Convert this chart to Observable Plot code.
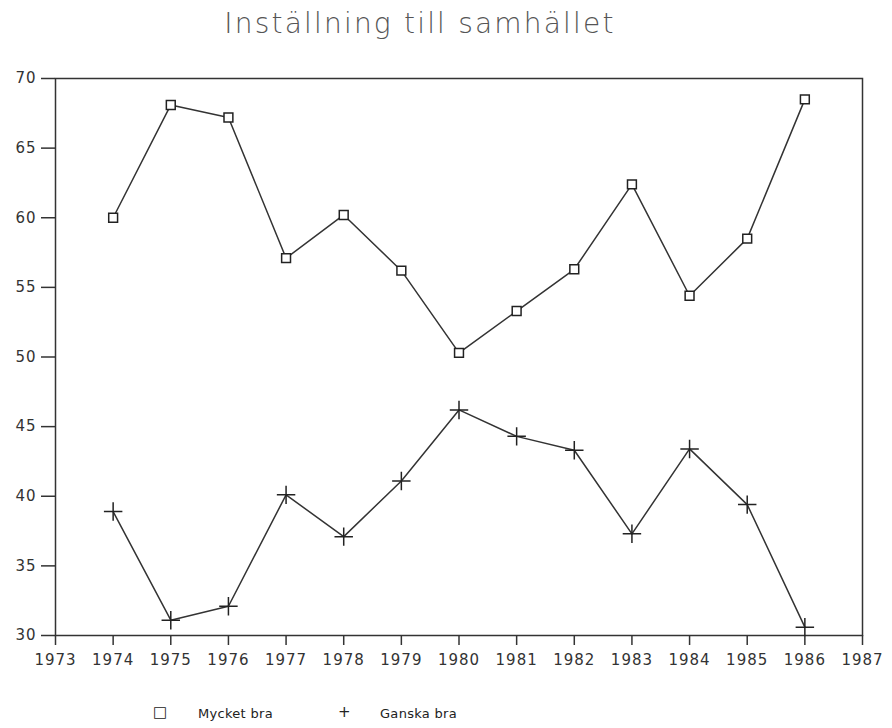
<!DOCTYPE html>
<html>
<head>
<meta charset="utf-8">
<script src="https://cdn.jsdelivr.net/npm/d3@7"></script>
<script src="https://cdn.jsdelivr.net/npm/@observablehq/plot@0.6"></script>
<style>
  body { margin: 0; background: #fff; width: 892px; height: 728px; position: relative; overflow: hidden; font-family: "DejaVu Sans", sans-serif; }
  #title { position: absolute; left: 0; top: 7px; width: 840px; text-align: center; font-size: 28px; letter-spacing: 2.2px; color: #555; font-family: "DejaVu Sans", sans-serif; font-weight: 300; }
  #chart { position: absolute; left: 0; top: 60px; }
  .leg { position: absolute; top: 706px; font-size: 13px; color: #222; letter-spacing: 0.3px; font-weight: 500; }
</style>
</head>
<body>
<div id="title"></div>
<div id="chart"></div>
<div id="legend"></div>
<script>
const titleText = "Inställning till samhället";
const years = [1974, 1975, 1976, 1977, 1978, 1979, 1980, 1981, 1982, 1983, 1984, 1985, 1986];
const myckeBra = [60.0, 68.1, 67.2, 57.1, 60.2, 56.2, 50.3, 53.3, 56.3, 62.4, 54.4, 58.5, 68.5];
const ganskaBra = [38.9, 31.1, 32.1, 40.1, 37.1, 41.1, 46.2, 44.3, 43.3, 37.3, 43.4, 39.4, 30.6];
const seriesNames = ["Mycket bra", "Ganska bra"];
const xTicks = d3.range(1973, 1988);
const yTicks = [30, 35, 40, 45, 50, 55, 60, 65, 70];

document.getElementById("title").textContent = titleText;

const rows = [];
years.forEach((y, i) => {
  rows.push({year: y, value: myckeBra[i], series: seriesNames[0]});
  rows.push({year: y, value: ganskaBra[i], series: seriesNames[1]});
});
const A = rows.filter(d => d.series === seriesNames[0]);
const B = rows.filter(d => d.series === seriesNames[1]);

const chart = Plot.plot({
  width: 892,
  height: 620,
  marginLeft: 55,
  marginRight: 30,
  marginTop: 18,
  marginBottom: 45,
  style: {fontFamily: "DejaVu Sans, sans-serif", fontSize: "15px", color: "#333", background: "#fff", letterSpacing: "1px"},
  x: {domain: [1973, 1987], ticks: xTicks, tickFormat: d => String(d), tickSize: 10, tickPadding: 9, label: null},
  y: {domain: [30, 70], ticks: yTicks, tickSize: 14, tickPadding: 5, label: null},
  marks: [
    Plot.frame({stroke: "#333", strokeWidth: 1.5}),
    Plot.line(A, {x: "year", y: "value", stroke: "#333", strokeWidth: 1.5}),
    Plot.line(B, {x: "year", y: "value", stroke: "#333", strokeWidth: 1.5}),
    Plot.dot(A, {x: "year", y: "value", symbol: "square", r: 5, fill: "white", stroke: "#222", strokeWidth: 1.5}),
    Plot.dot(B, {x: "year", y: "value", symbol: "plus", r: 6, fill: "none", stroke: "#222", strokeWidth: 1.5})
  ]
});
chart.querySelectorAll("g[aria-label$='axis'] path, g[aria-label$='tick'] path").forEach(p => { p.setAttribute("stroke", "#333"); p.setAttribute("stroke-width", "1.5"); p.setAttribute("stroke-opacity", "1"); });
chart.querySelectorAll("g[aria-label$='tick label'] text").forEach(t => t.setAttribute("font-size", "15px"));
document.getElementById("chart").appendChild(chart);

const legend = document.getElementById("legend");
const legItems = [
  {sym: "□", x: 153, label: seriesNames[0], lx: 198},
  {sym: "+", x: 338, label: seriesNames[1], lx: 380}
];
legItems.forEach(it => {
  const s = document.createElement("span");
  s.className = "leg"; s.style.left = it.x + "px"; s.style.fontSize = "15px"; s.style.top = "703px"; s.style.fontWeight = "400";
  s.textContent = it.sym; legend.appendChild(s);
  const t = document.createElement("span");
  t.className = "leg"; t.style.left = it.lx + "px";
  t.textContent = it.label; legend.appendChild(t);
});
</script>
</body>
</html>
